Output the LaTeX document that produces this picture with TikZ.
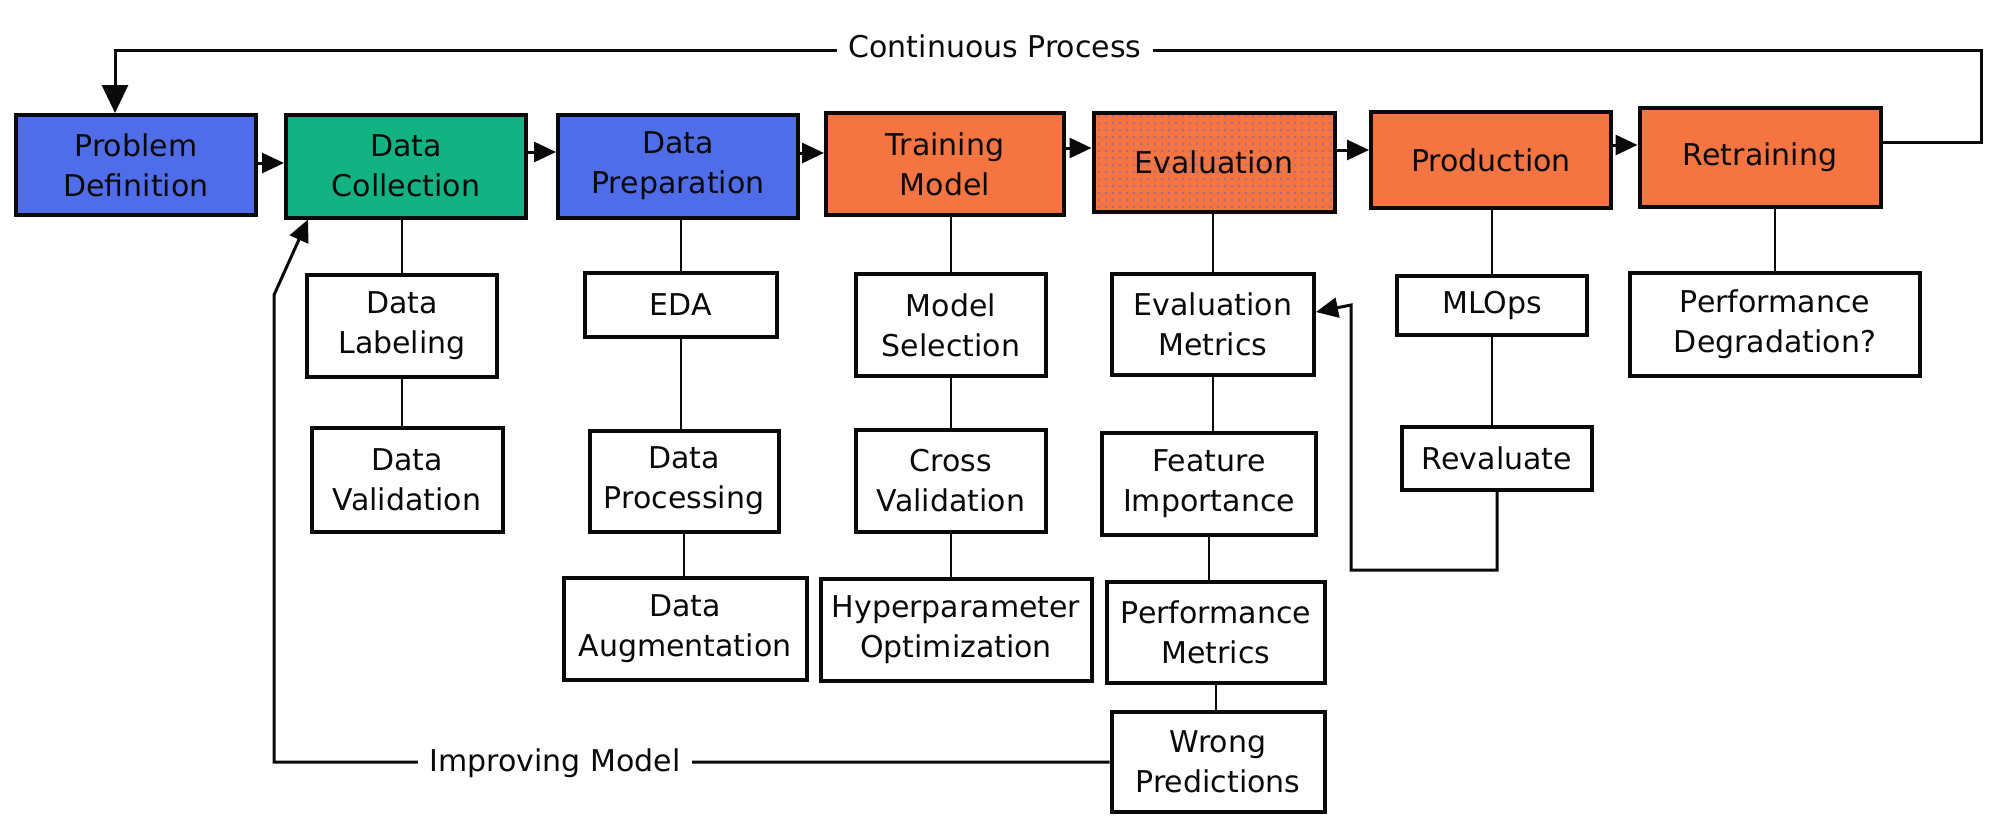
\documentclass[tikz,border=0pt]{standalone}
\usepackage{fontspec}
\setmainfont{DejaVu Sans}
\usetikzlibrary{arrows.meta,patterns.meta}
\definecolor{cblue}{HTML}{4F6DE8}
\definecolor{cgreen}{HTML}{12B283}
\definecolor{corange}{HTML}{F47542}
\definecolor{cink}{HTML}{0A0A0A}
\definecolor{cdot}{HTML}{4A6AF0}
\begin{document}
\begin{tikzpicture}[x=1pt,y=-1pt,
  box/.style={draw=cink, line width=4pt, rectangle, align=center, inner sep=0pt,
    font=\fontsize{30}{40}\selectfont, text=cink},
  lbl/.style={fill=white, font=\fontsize{30}{40}\selectfont, text=cink, inner xsep=12pt, inner ysep=8pt},
  conn/.style={line width=2.8pt, draw=cink},
  arr/.style={line width=3pt, draw=cink, -{Triangle[length=22pt,width=20pt]}},
  bigarr/.style={line width=3pt, draw=cink, -{Triangle[length=28pt,width=26pt]}}]
\fill[white] (0,0) rectangle (1999,830);
\useasboundingbox (0,0) rectangle (1999,830);

% main row
\node[box, fill=cblue, minimum width=240pt, minimum height=100pt] (pd) at (136,165) {Problem\\Definition};
\node[box, fill=cgreen, minimum width=240pt, minimum height=103pt] (dc) at (406,166) {Data\\Collection};
\node[box, fill=cblue, minimum width=240pt, minimum height=103pt] (dp) at (678,166) {Data\\Preparation};
\node[box, fill=corange, minimum width=238pt, minimum height=102pt] (tm) at (945,164) {Training\\Model};
\node[box, fill=corange, minimum width=241pt, minimum height=99pt,
  postaction={pattern={Dots[distance=7pt,radius=0.8pt]}, pattern color=cdot}] (ev) at (1214,162) {};
\node[font=\fontsize{30}{40}\selectfont, text=cink] (evt) at (ev.center) {Evaluation};
\node[box, fill=corange, minimum width=240pt, minimum height=96pt] (pr) at (1491,160) {Production};
\node[box, fill=corange, minimum width=241pt, minimum height=99pt] (rt) at (1760,157) {Retraining};

% sub boxes
\node[box, minimum width=190pt, minimum height=102pt] (dl) at (402,326) {Data\\Labeling};
\node[box, minimum width=191pt, minimum height=104pt] (dv) at (407,480) {Data\\Validation};
\node[box, minimum width=192pt, minimum height=64pt] (eda) at (681,305) {EDA};
\node[box, minimum width=189pt, minimum height=101pt] (dpr) at (684,481) {Data\\Processing};
\node[box, minimum width=243pt, minimum height=102pt] (da) at (685,629) {Data\\Augmentation};
\node[box, minimum width=190pt, minimum height=102pt] (ms) at (951,325) {Model\\Selection};
\node[box, minimum width=190pt, minimum height=102pt] (cv) at (951,481) {Cross\\Validation};
\node[box, minimum width=271pt, minimum height=102pt] (ho) at (956,630) {Hyperparameter\\Optimization};
\node[box, minimum width=202pt, minimum height=101pt] (em) at (1213,324) {Evaluation\\Metrics};
\node[box, minimum width=214pt, minimum height=102pt] (fi) at (1209,484) {Feature\\Importance};
\node[box, minimum width=218pt, minimum height=101pt] (pm) at (1216,632) {Performance\\Metrics};
\node[box, minimum width=213pt, minimum height=100pt] (wp) at (1218,762) {Wrong\\Predictions};
\node[box, minimum width=190pt, minimum height=59pt] (ml) at (1492,305) {MLOps};
\node[box, minimum width=190pt, minimum height=63pt] (rv) at (1497,458) {Revaluate};
\node[box, minimum width=290pt, minimum height=103pt] (pdg) at (1775,324) {Performance\\Degradation?};

% vertical connectors
\draw[conn] (dl.north) -- (dl.north |- dc.south);
\draw[conn] (dl.south) -- (dl.south |- dv.north);
\draw[conn] (eda.north) -- (eda.north |- dp.south);
\draw[conn] (eda.south) -- (eda.south |- dpr.north);
\draw[conn] (dpr.south) -- (dpr.south |- da.north);
\draw[conn] (ms.north) -- (ms.north |- tm.south);
\draw[conn] (ms.south) -- (ms.south |- cv.north);
\draw[conn] (cv.south) -- (cv.south |- ho.north);
\draw[conn] (em.north) -- (em.north |- ev.south);
\draw[conn] (em.south) -- (em.south |- fi.north);
\draw[conn] (fi.south) -- (fi.south |- pm.north);
\draw[conn] (pm.south) -- (pm.south |- wp.north);
\draw[conn] (ml.north) -- (ml.north |- pr.south);
\draw[conn] (ml.south) -- (ml.south |- rv.north);
\draw[conn] (pdg.north) -- (pdg.north |- rt.south);

% main row arrows
\draw[arr] ([yshift=2pt]pd.east) -- ([yshift=2pt]pd.east -| dc.west);
\draw[arr] ([yshift=14pt]dc.east) -- ([yshift=14pt]dc.east -| dp.west);
\draw[arr] ([yshift=13pt]dp.east) -- ([yshift=13pt]dp.east -| tm.west);
\draw[arr] ([yshift=16pt]tm.east) -- ([yshift=16pt]tm.east -| ev.west);
\draw[arr] ([yshift=12pt]ev.east) -- ([yshift=12pt]ev.east -| pr.west);
\draw[arr] ([yshift=15pt]pr.east) -- ([yshift=15pt]pr.east -| rt.west);

% continuous process loop
\coordinate (c1) at (1981,50);
\coordinate (c2) at (115,50);
\draw[bigarr] ([yshift=15pt]rt.east) -| (c1) -- (c2) -- (c2 |- pd.north);
\node[lbl] (cp) at (995,46) {Continuous Process};

% improving model loop
\coordinate (i1) at (274,762);
\coordinate (i2) at (274,295);
\draw[arr] (wp.west) -- (i1) -- (i2) -- ([xshift=24pt]dc.south west);
\node[lbl] (im) at (555,763) {Improving Model};

% revaluate loop
\coordinate (r1) at (1351,570);
\coordinate (r2) at (1351,305);
\draw[arr] (rv.south) -- (rv.south |- r1) -- (r1) -- (r2) -- ([yshift=12pt]em.east);
\end{tikzpicture}
\end{document}
